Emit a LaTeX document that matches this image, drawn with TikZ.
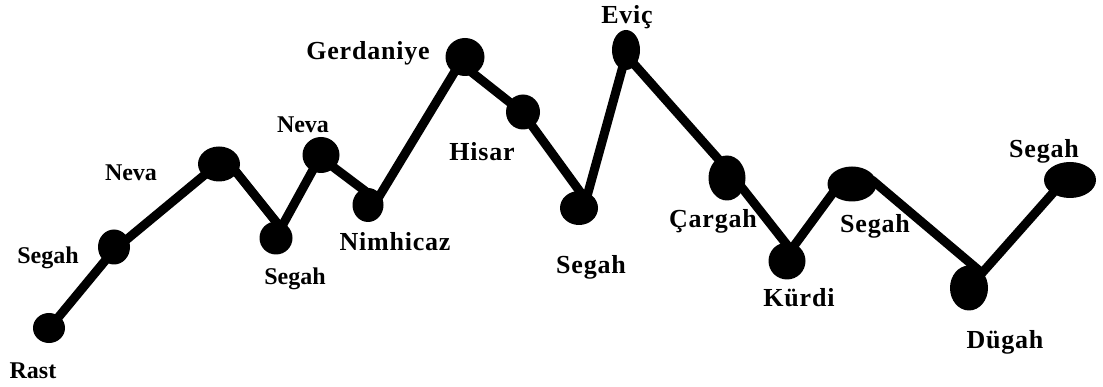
\documentclass[tikz,border=0pt]{standalone}
\usepackage{fontspec}
\setmainfont{Liberation Serif}
\usepackage{tikz}
\usetikzlibrary{shapes.geometric}
\tikzset{
	dot/.style     ={ellipse, fill=black, draw=none, inner sep=0pt},
	lbl/.style     ={inner sep=0pt, font=\fontsize{26}{30}\selectfont\bfseries\addfontfeature{LetterSpace=3}},
	lblsmall/.style={inner sep=0pt, font=\fontsize{24}{28}\selectfont\bfseries},
	link/.style    ={line width=9pt, line join=round, line cap=round},
}
\begin{document}
\begin{tikzpicture}[x=1pt, y=-1pt]
	\useasboundingbox (0,0) rectangle (1103,387);
	% bends of the melodic line
	\coordinate (pRast) at (52,325);
	\coordinate (pSegahA) at (114,250);
	\coordinate (pNevaA) at (225,158);
	\coordinate (pSegahB) at (281,228);
	\coordinate (pNevaB) at (320,157);
	\coordinate (pNimhicaz) at (377,200);
	\coordinate (pGerdaniye) at (460,63);
	\coordinate (pHisar) at (522,112);
	\coordinate (pSegahC) at (586,200);
	\coordinate (pEvic) at (626,55);
	\coordinate (pCargah) at (728,170);
	\coordinate (pKurdi) at (791,250);
	\coordinate (pSegahDin) at (838,186);
	\coordinate (pSegahDout) at (872,180);
	\coordinate (pDugah) at (982,273);
	\coordinate (pSegahE) at (1060,185);
	\draw[link] (pRast) -- (pSegahA) -- (pNevaA) -- (pSegahB) -- (pNevaB) -- (pNimhicaz)
		-- (pGerdaniye) -- (pHisar) -- (pSegahC) -- (pEvic) -- (pCargah) -- (pKurdi)
		-- (pSegahDin) -- (pSegahDout) -- (pDugah) -- (pSegahE);
	% notes
	\node[dot, minimum width=32pt, minimum height=30pt] (rast) at (49,328) {};
	\node[dot, minimum width=32pt, minimum height=35pt] (segahA) at (114,247) {};
	\node[dot, minimum width=42pt, minimum height=35pt] (nevaA) at (219,164) {};
	\node[dot, minimum width=33pt, minimum height=33pt] (segahB) at (276,238) {};
	\node[dot, minimum width=37pt, minimum height=36pt] (nevaB) at (321,155) {};
	\node[dot, minimum width=31pt, minimum height=34pt] (nimhicaz) at (368,205) {};
	\node[dot, minimum width=39pt, minimum height=38pt] (gerdaniye) at (465,57) {};
	\node[dot, minimum width=34pt, minimum height=35pt] (hisar) at (523,112) {};
	\node[dot, minimum width=38pt, minimum height=34pt] (segahC) at (579,208) {};
	\node[dot, minimum width=28pt, minimum height=40pt] (evic) at (626,50) {};
	\node[dot, minimum width=37pt, minimum height=45pt] (cargah) at (727,178) {};
	\node[dot, minimum width=37pt, minimum height=37pt] (kurdi) at (787,261) {};
	\node[dot, minimum width=49pt, minimum height=35pt] (segahD) at (852,184) {};
	\node[dot, minimum width=38pt, minimum height=45pt] (dugah) at (969,288) {};
	\node[dot, minimum width=52pt, minimum height=36pt] (segahE) at (1070,180) {};
	% names
	\node[lblsmall] (tRast) at (33,371) {Rast};
	\node[lblsmall] (tSegahA) at (48,258) {Segah};
	\node[lblsmall] (tNevaA) at (131,173) {Neva};
	\node[lblsmall] (tSegahB) at (295,279) {Segah};
	\node[lblsmall] (tNevaB) at (303,125) {Neva};
	\node[lbl] (tGerdaniye) at (368,53) {Gerdaniye};
	\node[lbl] (tNimhicaz) at (395,242) {Nimhicaz};
	\node[lbl] (tHisar) at (482,152) {Hisar};
	\node[lbl] (tSegahC) at (591,267) {Segah};
	\node[lbl] (tEvic) at (627,17) {Eviç};
	\node[lbl] (tCargah) at (713,221) {Çargah};
	\node[lbl] (tKurdi) at (799,298) {Kürdi};
	\node[lbl] (tSegahD) at (875,226) {Segah};
	\node[lbl] (tDugah) at (1005,342) {Dügah};
	\node[lbl] (tSegahE) at (1044,151) {Segah};
\end{tikzpicture}
\end{document}
